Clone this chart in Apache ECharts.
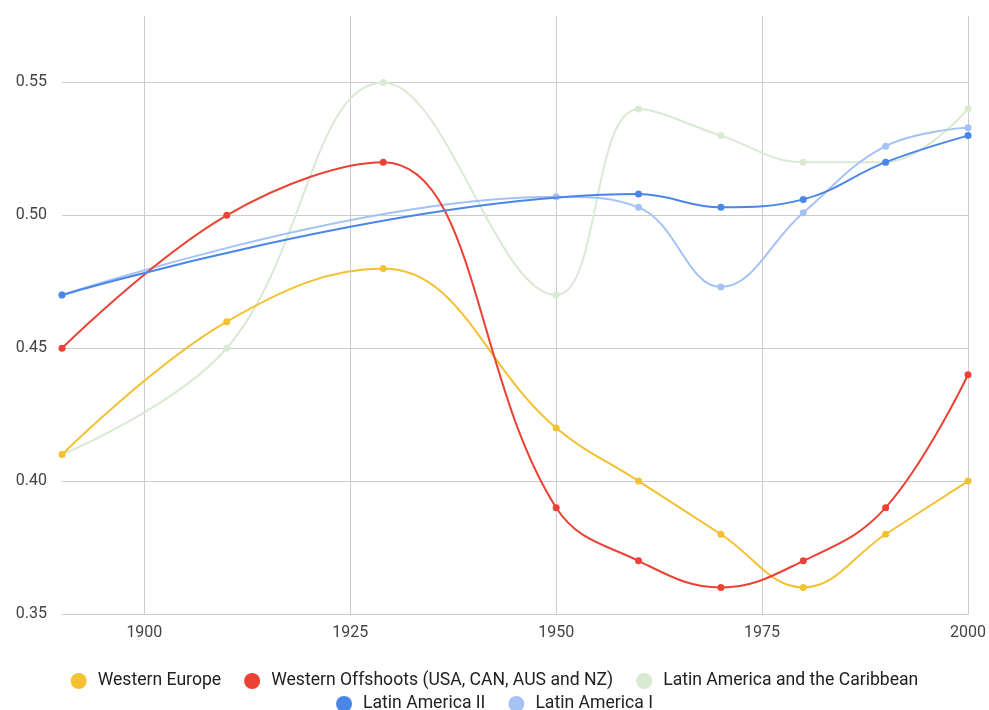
<!DOCTYPE html>
<html lang="en">
<head>
    <meta charset="UTF-8">
    <title>Inequality chart</title>
    <script src="https://cdn.jsdelivr.net/npm/echarts@6/dist/echarts.min.js"></script>
    <style>
        html, body { margin: 0; padding: 0; background: #fff; }
        #chart { width: 989px; height: 710px; }
    </style>
</head>
<body>
    <div id="chart"></div>
    <script>
        var years = [1890, 1910, 1929, 1950, 1960, 1970, 1980, 1990, 2000];
        var westernEurope = [0.41, 0.46, 0.48, 0.42, 0.40, 0.38, 0.36, 0.38, 0.40];
        var westernOffshoots = [0.45, 0.50, 0.52, 0.39, 0.37, 0.36, 0.37, 0.39, 0.44];
        var latinCaribbean = [0.41, 0.45, 0.55, 0.47, 0.54, 0.53, 0.52, 0.52, 0.54];
        var latinAmerica2 = [0.47, null, null, null, 0.508, 0.503, 0.506, 0.52, 0.53];
        var latinAmerica1 = [0.47, null, null, 0.507, 0.503, 0.473, 0.501, 0.526, 0.533];
        var xTicks = [1900, 1925, 1950, 1975, 2000];

        var names = ['Western Europe', 'Western Offshoots (USA, CAN, AUS and NZ)',
            'Latin America and the Caribbean', 'Latin America II', 'Latin America I'];
        var colors = ['#f4c132', '#ea4335', '#d9ead3', '#4a86e8', '#a4c2f4'];
        var values = [westernEurope, westernOffshoots, latinCaribbean, latinAmerica2, latinAmerica1];

        function pairs(arr) {
            return years.map(function (y, i) { return [y, arr[i]]; });
        }

        var chart = echarts.init(document.getElementById('chart'));
        var font = 'Roboto, Arial, sans-serif';

        var series = names.map(function (n, i) {
            return {
                name: n,
                type: 'line',
                data: pairs(values[i]),
                smooth: 0.4,
                connectNulls: true,
                symbol: 'circle',
                symbolSize: 7,
                lineStyle: { width: 2, color: colors[i] },
                itemStyle: { color: colors[i] },
                z: [3, 4, 1, 5, 2][i]
            };
        });

        var legendBase = {
            icon: 'circle',
            itemWidth: 16,
            itemHeight: 16,
            itemGap: 23,
            left: 'center',
            textStyle: {
                fontFamily: font, fontSize: 17.6, color: '#222',
                padding: [0, 0, 0, 6]
            }
        };

        chart.setOption({
            animation: false,
            color: colors,
            grid: { left: 62, right: 21, top: 16, bottom: 96 },
            xAxis: {
                type: 'value',
                min: 1890,
                max: 2000,
                axisLine: { show: true, lineStyle: { color: '#cccccc' } },
                axisTick: { show: false, customValues: xTicks },
                axisLabel: {
                    customValues: xTicks,
                    color: '#444', fontFamily: font, fontSize: 16, margin: 11,
                    formatter: function (v) { return String(v); }
                },
                splitLine: { show: true, lineStyle: { color: '#cccccc', width: 1 } }
            },
            yAxis: {
                type: 'value',
                min: 0.35,
                max: 0.575,
                interval: 0.05,
                axisLine: { show: false },
                axisTick: { show: false },
                axisLabel: {
                    color: '#444', fontFamily: font, fontSize: 16, margin: 15,
                    showMaxLabel: false,
                    formatter: function (v) { return v.toFixed(2); }
                },
                splitLine: { show: true, showMaxLine: false, lineStyle: { color: '#cccccc', width: 1 } }
            },
            legend: [
                Object.assign({}, legendBase, { top: 667, data: names.slice(0, 3) }),
                Object.assign({}, legendBase, { top: 690, data: names.slice(3) })
            ],
            series: series
        });
    </script>
</body>
</html>
